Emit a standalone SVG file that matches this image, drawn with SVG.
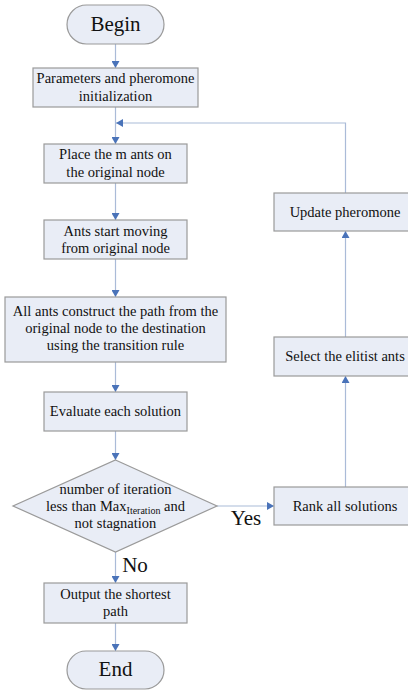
<svg xmlns="http://www.w3.org/2000/svg" width="408" height="690" viewBox="0 0 408 690">
<defs>
<marker id="ah" markerWidth="8" markerHeight="8" refX="7" refY="4" orient="auto" markerUnits="userSpaceOnUse">
<path d="M0,0 L7,4 L0,8 Z" fill="#4a73b9"/>
</marker>
</defs>
<style>
.box{fill:#e9edf6;stroke:#9a9a9a;stroke-width:1.2}
.t{font-family:"Liberation Serif",serif;font-size:14.5px;fill:#111;text-anchor:middle}
.tl{font-family:"Liberation Serif",serif;font-size:21px;fill:#111;text-anchor:middle}
.c{fill:none;stroke:#aabbd8;stroke-width:1.2;marker-end:url(#ah)}
</style>
<rect width="408" height="690" fill="#fff"/>
<g id="connectors">
<path class="c" d="M115.5,44 V68"/>
<path class="c" d="M115.5,107 V144"/>
<path class="c" d="M115.5,183 V220"/>
<path class="c" d="M115.5,259 V297"/>
<path class="c" d="M115.5,362 V392"/>
<path class="c" d="M115.5,431 V460"/>
<path class="c" d="M115.5,552 V583"/>
<path class="c" d="M115.5,623 V651"/>
<path class="c" d="M217,506 H274"/>
<path class="c" d="M345.5,487 V376"/>
<path class="c" d="M345.5,337 V231"/>
<path class="c" d="M345.5,193 V123 H116"/>
<text class="tl" x="246" y="525">Yes</text>
<text class="tl" x="135" y="572">No</text>
</g>
<g id="begin">
<rect class="box" x="67" y="5" width="97" height="39" rx="19.5"/>
<text class="tl" x="115.5" y="31">Begin</text>
</g>
<g id="params">
<rect class="box" x="33" y="68" width="165" height="39"/>
<text class="t" x="115.5" y="83">Parameters and pheromone</text>
<text class="t" x="115.5" y="101">initialization</text>
</g>
<g id="place">
<rect class="box" x="44" y="144" width="143" height="39"/>
<text class="t" x="115.5" y="159">Place the m ants on</text>
<text class="t" x="115.5" y="177">the original node</text>
</g>
<g id="start">
<rect class="box" x="44" y="220" width="143" height="39"/>
<text class="t" x="115.5" y="236">Ants start moving</text>
<text class="t" x="115.5" y="253">from original node</text>
</g>
<g id="construct">
<rect class="box" x="5" y="297" width="221" height="65"/>
<text class="t" x="115.5" y="316">All ants construct the path from the</text>
<text class="t" x="115.5" y="333">original node to the destination</text>
<text class="t" x="115.5" y="350">using the transition rule</text>
</g>
<g id="evaluate">
<rect class="box" x="44" y="392" width="143" height="39"/>
<text class="t" x="115.5" y="416">Evaluate each solution</text>
</g>
<g id="decision">
<polygon class="box" points="115.5,460 217,506 115.5,552 13,506"/>
<text class="t" x="115.5" y="494">number of iteration</text>
<text class="t" x="115.5" y="511">less than Max<tspan font-size="10" dy="3">Iteration</tspan><tspan dy="-3"> and</tspan></text>
<text class="t" x="115.5" y="528">not stagnation</text>
</g>
<g id="output">
<rect class="box" x="44" y="583" width="143" height="40"/>
<text class="t" x="115.5" y="599">Output the shortest</text>
<text class="t" x="115.5" y="616">path</text>
</g>
<g id="end">
<rect class="box" x="67" y="651" width="97" height="38" rx="19"/>
<text class="tl" x="115.5" y="676">End</text>
</g>
<g id="rank">
<rect class="box" x="274" y="487" width="140" height="38"/>
<text class="t" x="345" y="511">Rank all solutions</text>
</g>
<g id="select">
<rect class="box" x="274" y="337" width="140" height="39"/>
<text class="t" x="345" y="361">Select the elitist ants</text>
</g>
<g id="update">
<rect class="box" x="274" y="193" width="140" height="38"/>
<text class="t" x="345" y="217">Update pheromone</text>
</g>
</svg>
